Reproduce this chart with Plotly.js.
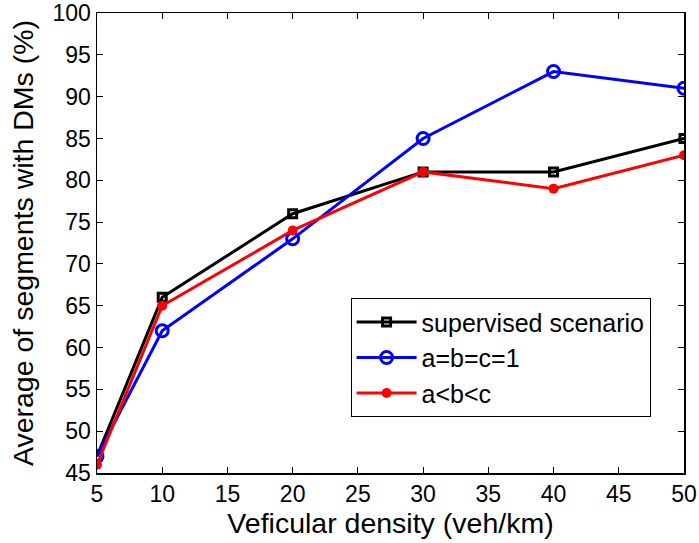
<!DOCTYPE html>
<html><head><meta charset="utf-8">
<script src="https://cdn.plot.ly/plotly-3.0.1.min.js"></script>
<style>body{margin:0;padding:0;background:#fff}#chart{width:699px;height:543px}</style>
</head><body><div id="chart"></div>
<script>
const density = [5, 10, 20, 30, 40, 50];
const supervised = [47, 66, 76, 81, 81, 85];
const equalWeights = [47, 62, 73, 85, 93, 91];
const orderedWeights = [46, 65, 74, 81, 79, 83];
const xTicks = [5, 10, 15, 20, 25, 30, 35, 40, 45, 50];
const yTicks = [45, 50, 55, 60, 65, 70, 75, 80, 85, 90, 95, 100];

const traces = [
  {x: density, y: supervised, name: 'supervised scenario', mode: 'lines+markers',
   line: {color: '#000', width: 3},
   marker: {symbol: 'square-open', size: 8, color: '#000', line: {width: 3, color: '#000'}}},
  {x: density, y: equalWeights, name: 'a=b=c=1', mode: 'lines+markers',
   line: {color: '#0000ff', width: 3},
   marker: {symbol: 'circle-open', size: 12, color: '#0000ff', line: {width: 3, color: '#0000ff'}}},
  {x: density, y: orderedWeights, name: 'a<b<c', mode: 'lines+markers',
   line: {color: '#ff0000', width: 3},
   marker: {symbol: 'circle', size: 10, color: '#ff0000'}}
];

const axisCommon = {
  showgrid: false, zeroline: false, showline: true, mirror: 'ticks',
  linecolor: '#000', linewidth: 1.5, ticks: 'inside', ticklen: 6, tickcolor: '#000',
  tickfont: {family: 'Liberation Sans, Arial, sans-serif', size: 23, color: '#000'}
};

const layout = {
  width: 699, height: 543,
  margin: {l: 97, r: 15, t: 13, b: 70},
  paper_bgcolor: '#fff', plot_bgcolor: '#fff',
  font: {family: 'Liberation Sans, Arial, sans-serif', color: '#000'},
  xaxis: Object.assign({}, axisCommon, {
    range: [5, 50], tickvals: xTicks, ticktext: xTicks.map(String),
    title: {text: 'Veficular density (veh/km)', font: {size: 28.5, color: '#000'}, standoff: 1}
  }),
  yaxis: Object.assign({}, axisCommon, {
    range: [45, 100], tickvals: yTicks, ticktext: yTicks.map(String),
    title: {text: 'Average of segments with DMs (%)', font: {size: 28.5, color: '#000'}, standoff: 10}
  }),
  showlegend: true,
  legend: {
    x: 0.432, y: 0.38, xanchor: 'left', yanchor: 'top',
    bgcolor: '#fff', bordercolor: '#000', borderwidth: 1,
    font: {size: 25, color: '#000'}, tracegroupgap: 0, itemwidth: 60
  }
};

Plotly.newPlot('chart', traces, layout, {displayModeBar: false, staticPlot: true});
</script></body></html>
